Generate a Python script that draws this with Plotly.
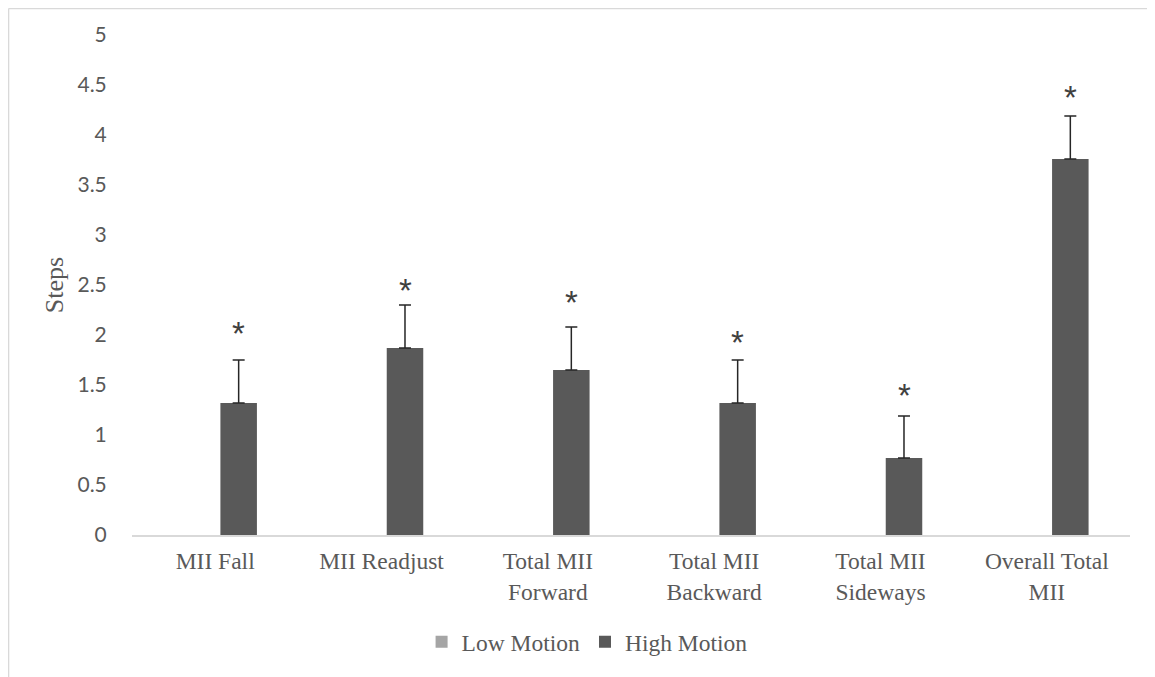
import plotly.graph_objects as go

categories = ["MII Fall", "MII Readjust", "Total MII<br>Forward", "Total MII<br>Backward",
              "Total MII<br>Sideways", "Overall Total<br>MII"]
low_motion = [0, 0, 0, 0, 0, 0]
high_motion = [1.32, 1.87, 1.65, 1.32, 0.77, 3.76]
high_err = [0.43, 0.43, 0.43, 0.43, 0.42, 0.43]
star_y = [2.02, 2.45, 2.33, 1.93, 1.40, 4.38]
y_ticks = [0, 0.5, 1, 1.5, 2, 2.5, 3, 3.5, 4, 4.5, 5]

serif = "Liberation Serif, Times New Roman, serif"
sans = "Lato, Liberation Sans, sans-serif"
grey = "#595959"

fig = go.Figure()
fig.add_trace(go.Bar(
    name="Low Motion", x=categories, y=low_motion,
    marker=dict(color="#A5A5A5", line=dict(width=0)),
))
fig.add_trace(go.Bar(
    name="High Motion", x=categories, y=high_motion,
    marker=dict(color="#595959", line=dict(width=0)),
    error_y=dict(type="data", symmetric=False, array=high_err,
                 arrayminus=[0] * len(high_err),
                 color="#262626", thickness=1.5, width=6),
))

# significance asterisks above the High Motion bars
for cat, sy in zip(categories, star_y):
    fig.add_annotation(
        x=cat, y=sy, xref="x", yref="y", text="*", showarrow=False,
        xshift=23.5, yanchor="middle",
        font=dict(family="Liberation Sans, Arial, sans-serif", size=33, color="#404040"),
    )

# y-axis title
fig.add_annotation(
    x=-0.078, y=0.5, xref="paper", yref="paper", text="Steps", textangle=-90,
    showarrow=False, xanchor="center", yanchor="middle",
    font=dict(family=serif, size=26, color=grey),
)

# chart frame (top and left edges visible)
frame = "#D9D9D9"
fig.add_shape(type="line", xref="paper", yref="paper",
              x0=-0.1237, x1=1.03, y0=1.053, y1=1.053,
              line=dict(color=frame, width=1.5))
fig.add_shape(type="line", xref="paper", yref="paper",
              x0=-0.1237, x1=-0.1237, y0=1.053, y1=-0.29,
              line=dict(color=frame, width=1.5))

fig.update_layout(
    width=1147, height=669,
    margin=dict(l=124, r=25, t=27, b=142),
    paper_bgcolor="white", plot_bgcolor="white",
    barmode="group", bargap=0.435, bargroupgap=0.223,
    showlegend=True,
    legend=dict(orientation="h", x=0.456, xanchor="center", y=-0.214, yanchor="middle",
                font=dict(family=serif, size=23.5, color=grey),
                itemwidth=30, traceorder="normal"),
    xaxis=dict(
        showline=True, linecolor="#D9D9D9", linewidth=1.5,
        showgrid=False, zeroline=False,
        ticks="outside", ticklen=4, tickcolor="rgba(0,0,0,0)",
        tickfont=dict(family=serif, size=23.5, color=grey),
    ),
    yaxis=dict(
        range=[0, 5], tickvals=y_ticks,
        ticktext=[f"{v:g}" for v in y_ticks],
        showline=False, showgrid=False, zeroline=False,
        ticks="outside", ticklen=20, tickcolor="rgba(0,0,0,0)",
        tickfont=dict(family=sans, size=21, color=grey),
    ),
)

fig.write_html("out.html")
